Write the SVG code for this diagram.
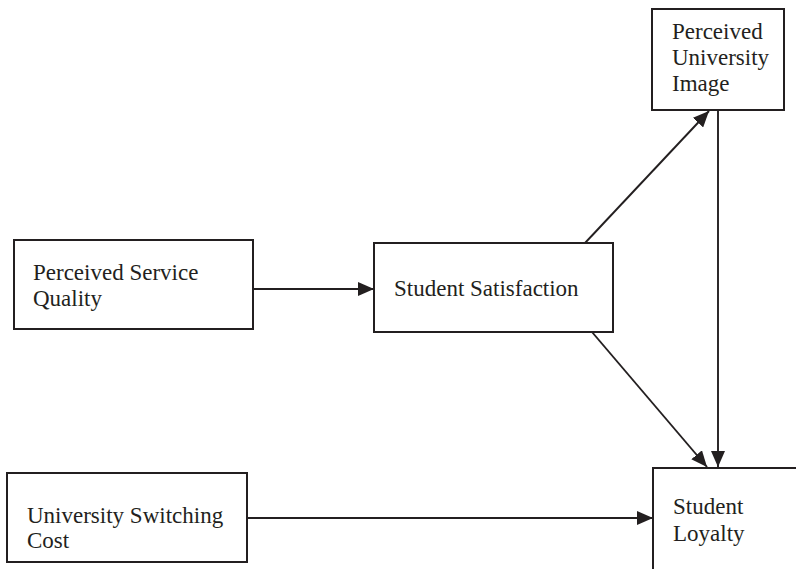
<svg xmlns="http://www.w3.org/2000/svg" width="796" height="569" viewBox="0 0 796 569">
<style>
.box{fill:#fff;stroke:#231f20;stroke-width:2}
.lbl{font-family:'Liberation Serif','Times New Roman','DejaVu Serif',serif;font-size:23px;fill:#231f20}
.edge{stroke:#231f20;stroke-width:1.9;fill:none;marker-end:url(#ah)}
</style>
<defs>
<marker id="ah" viewBox="0 0 16 14" refX="16" refY="7" markerWidth="16" markerHeight="14" markerUnits="userSpaceOnUse" orient="auto">
<path d="M0,0 L16,7 L0,14 Z" fill="#231f20"/>
</marker>
</defs>
<rect width="796" height="569" fill="#fff"/>
<g id="connectors">
<line class="edge" x1="253" y1="289" x2="374" y2="289"/>
<line class="edge" x1="585" y1="243" x2="709" y2="111"/>
<line class="edge" x1="718" y1="110" x2="718" y2="467"/>
<line class="edge" x1="592" y1="332" x2="707" y2="467"/>
<line class="edge" x1="247" y1="518" x2="653" y2="518"/>
</g>
<g id="perceived-university-image">
<rect class="box" x="652" y="9" width="132" height="101"/>
<text class="lbl" x="672" y="39">Perceived</text>
<text class="lbl" x="672" y="65">University</text>
<text class="lbl" x="672" y="91">Image</text>
</g>
<g id="perceived-service-quality">
<rect class="box" x="14" y="240" width="239" height="89"/>
<text class="lbl" x="33" y="280">Perceived Service</text>
<text class="lbl" x="33" y="306">Quality</text>
</g>
<g id="student-satisfaction">
<rect class="box" x="374" y="243" width="239" height="89"/>
<text class="lbl" x="394" y="296">Student Satisfaction</text>
</g>
<g id="student-loyalty">
<rect class="box" x="653" y="468" width="150" height="120"/>
<text class="lbl" x="673" y="514">Student</text>
<text class="lbl" x="673" y="541">Loyalty</text>
</g>
<g id="university-switching-cost">
<rect class="box" x="7" y="473" width="240" height="89"/>
<text class="lbl" x="27" y="523">University Switching</text>
<text class="lbl" x="27" y="548">Cost</text>
</g>
</svg>
